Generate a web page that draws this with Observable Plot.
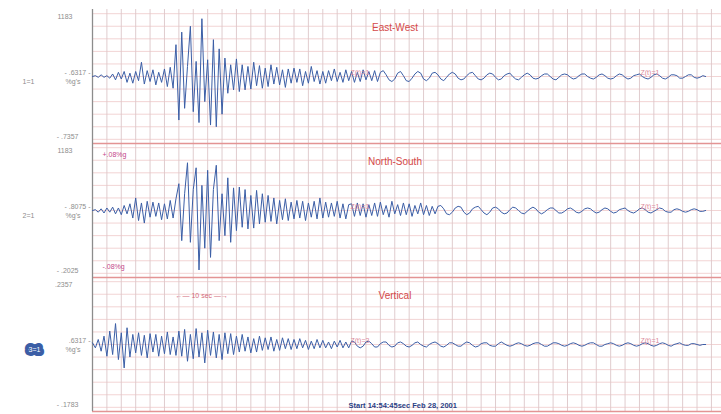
<!DOCTYPE html>
<html><head><meta charset="utf-8">
<script src="https://cdn.jsdelivr.net/npm/d3@7"></script>
<script src="https://cdn.jsdelivr.net/npm/@observablehq/plot@0.6"></script>
<style>body{margin:0;background:#fff}</style>
</head><body><div id="chart"></div>
<script>
const channels = ["East-West", "North-South", "Vertical"];
const dt = 0.4; // seconds per sample
const ewValues = [
 0, 1, -1, 2, -1, 1, -2, 3, -4, 5,
 -3, 6, -7, 4, -8, 6, -5, 17, -9, 7,
 -6, 8, -10, 5, -7, 9, -12, 11, -14, 38,
 -52, 53, -38, 12, 60, -42, 18, -55, 69, -30,
 20, -58, 44, -60, 33, -45, 22, -20, 14, -16,
 21, -18, 14, -16, 12, -15, 17, -11, 13, -14,
 10, -12, 14, -9, 11, -10, 8, -13, 9, -8,
 10, -7, 9, -11, 6, -8, 12, -6, 7, -9,
 6, -8, 7, -5, 9, -6, 5, -7, 8, -5,
 6, -7, 5, -6, 8, -4, 6, -5, 7, -6,
 5, 7, 2, -4, -6, -3, 4, 6, 1, -5,
 -6, -2, 3, 6, 4, -3, -5, -2, 4, 5,
 2, -3, -5, -1, 3, 5, 3, -2, -4, -3,
 1, 4, 5, 1, -3, -4, -2, 2, 4, 3,
 -1, -4, -3, 1, 3, 4, 0, -3, -4, -1,
 2, 4, 2, -2, -3, -2, 1, 3, 3, 0,
 -3, -4, -1, 2, 3, 2, -1, -3, -2, 1,
 3, 3, 0, -2, -3, -1, 2, 3, 1, -2,
 -3, -2, 1, 3, 2, -1, -3, -2, 1, 2,
 3, 0, -2, -3, -1, 2, 3, 1, -2, -3,
 -1, 2, 2, 1, -2, -2, 0, 2, 2, -1,
 -2, -1, 1, 0
];
const nsValues = [
 0, 1, -2, 2, -3, 3, -2, 4, -4, 3,
 -5, 6, -4, 8, -9, 15, -12, 9, -15, 11,
 -8, 10, -7, 9, -11, 8, -10, 12, -9, 14,
 32, -36, 20, 57, -38, 25, 51, -71, 30, -45,
 48, -56, 25, 54, -36, 20, -30, 39, -38, 27,
 -24, 28, -20, 25, -22, 18, -21, 24, -16, 20,
 -14, 18, -13, 15, -16, 12, -11, 14, -12, 10,
 -10, 12, -9, 11, -12, 9, -8, 11, -10, 15,
 -9, 10, -8, 9, -7, 11, -9, 8, -10, 7,
 8, -7, 9, -6, 8, -8, 7, -6, 9, -7,
 10, -5, 6, -8, 11, -4, 7, -6, 9, -5,
 8, -7, 6, -4, 9, -5, 6, -6, 5, -4,
 5, 6, 2, -4, -5, -2, 3, 5, 4, -2,
 -5, -3, 2, 4, 5, 1, -3, -5, -2, 3,
 4, 2, -2, -4, -3, 1, 4, 3, 0, -3,
 -4, -1, 2, 4, 2, -2, -4, -2, 1, 3,
 3, 0, -3, -3, -1, 2, 3, 1, -2, -3,
 -1, 2, 3, 2, -1, -3, -2, 1, 3, 2,
 -1, -3, -2, 1, 2, 3, 0, -2, -3, -1,
 2, 3, 1, -2, -3, -1, 1, 3, 2, -1,
 -2, -2, 1, 2, 1, -1, -2, -1, 1, 2,
 1, -1, -1, 0
];
const vtValues = [
 2, -4, 6, -8, 10, -14, 16, -12, 25, -18,
 14, -28, 20, -15, 12, -10, 14, -13, 11, -16,
 13, -9, 12, -14, 10, -11, 15, -12, 9, -13,
 16, -14, 18, -20, 12, -17, 19, -15, 14, -22,
 17, -13, 15, -16, 12, -18, 14, -11, 13, -12,
 10, -9, 12, -8, 9, -10, 7, -9, 10, -7,
 8, -6, 9, -8, 6, -7, 8, -5, 7, -6,
 6, -5, 7, -4, 5, -6, 4, -5, 6, -4,
 5, -4, 3, -5, 4, -3, 5, -4, 3, -4,
 4, 3, -2, -4, -2, 3, 4, 1, -3, -3,
 1, 3, 3, -1, -3, -2, 2, 3, 1, -2,
 -3, -1, 2, 3, 0, -2, -3, 0, 2, 3,
 1, -2, -3, -1, 2, 2, 0, -2, -2, 1,
 3, 2, -1, -3, -2, 1, 2, 2, -1, -2,
 -2, 1, 3, 1, -1, -2, -1, 1, 2, 1,
 -1, -2, -1, 1, 2, 2, 0, -2, -2, 0,
 2, 2, 1, -1, -2, -1, 1, 2, 1, -1,
 -2, -1, 1, 2, 2, 0, -2, -2, 0, 1,
 2, 1, -1, -2, -1, 1, 2, 1, -1, -2,
 -1, 1, 2, 1, -1, -2, -1, 1, 2, 1,
 -1, -2, 0, 1, 2, 0, -1, -1, 1, 1,
 0, -1, 0, 0
];
const panelTop = ["1183", "1183", ".2357"];
const panelBottom = ["- .7357", "- .2025", "- .1783"];
const midLabels = ["- .6317 -", "- .8075 -", ".6317 -"];
const unitLabels = ["%g's", "%g's", "%g's"];
const idLabels = ["1=1", "2=1", "3=1"];
const zLabels = ["Z(t)=1", "Z(t)=1", "Z(t)=3"];
const zLabelsRight = ["Z(t)=1", "Z(t)=1", "Z(t)=1"];
const rangeLabels = ["+.08%g", "-.08%g"];
const scaleLabel = "←— 10 sec —→";
const startLabel = "Start 14:54:45sec Feb 28, 2001";
const xGrid = d3.range(0, 88, 2);
const yGrid = [-75, -60, -45, -30, -15, 0, 15, 30, 45, 60, 75];

const series = [ewValues, nsValues, vtValues];
const rows = [];
series.forEach((vals, k) => vals.forEach((v, i) => rows.push({ch: channels[k], t: i * dt, v})));
const labels = channels.map((ch, i) => ({ch, top: panelTop[i], bottom: panelBottom[i], mid: midLabels[i], unit: unitLabels[i], id: idLabels[i], z: zLabels[i], z2: zLabelsRight[i]}));
const ns = labels.filter(d => d.ch === "North-South");
const vt = labels.filter(d => d.ch === "Vertical");
const notVt = labels.filter(d => d.ch !== "Vertical");

const gray = "#8d8d8d";
const chart = Plot.plot({
  width: 721, height: 414,
  marginLeft: 92, marginRight: 0, marginTop: 8, marginBottom: 3,
  x: {domain: [0, 87.4], axis: null},
  y: {domain: [-80, 80], axis: null},
  fy: {domain: channels, axis: null, padding: 0},
  style: {fontFamily: "'Liberation Sans', Arial, sans-serif", background: "white"},
  marks: [
    Plot.ruleY(yGrid, {stroke: "#f1cfcf", strokeWidth: 0.9}),
    Plot.ruleX(xGrid, {stroke: "#dcc6c8", strokeWidth: 0.9}),
    Plot.ruleY([-80], {stroke: "#e39494", strokeWidth: 1.6}),
    Plot.ruleX([0], {stroke: "#8c8c8c", strokeWidth: 1.3}),
    Plot.line(rows, {x: "t", y: "v", fy: "ch", stroke: "#3b5ea6", strokeWidth: 1}),
    Plot.text(labels, {fy: "ch", text: "ch", frameAnchor: "top", dx: -12, dy: 14, fill: "#d44a4a", fontSize: 10}),
    Plot.text(labels, {fy: "ch", text: "top", frameAnchor: "top-left", dx: -20, dy: 5, textAnchor: "end", fill: gray, fontSize: 7}),
    Plot.text(labels, {fy: "ch", text: "bottom", frameAnchor: "bottom-left", dx: -14, dy: -5, textAnchor: "end", fill: gray, fontSize: 7}),
    Plot.text(labels, {fy: "ch", y: () => 0, text: "mid", frameAnchor: "left", dx: -2, dy: -4, textAnchor: "end", fill: gray, fontSize: 7}),
    Plot.text(labels, {fy: "ch", y: () => 0, text: "unit", frameAnchor: "left", dx: -12, dy: 5, textAnchor: "end", fill: gray, fontSize: 7}),
    Plot.text(notVt, {fy: "ch", y: () => 0, text: "id", frameAnchor: "left", dx: -70, dy: 5, textAnchor: "start", fill: gray, fontSize: 7}),
    Plot.text(vt, {fy: "ch", y: () => 0, text: "id", frameAnchor: "left", dx: -64, dy: 5, fill: "white", stroke: "#3b5ea6", strokeWidth: 8, strokeLinejoin: "round", fontSize: 7}),
    Plot.text(labels, {fy: "ch", y: () => 0, text: "z", frameAnchor: "left", dx: 258, dy: -4, textAnchor: "start", fill: "#dc8a9a", fontSize: 7}),
    Plot.text(labels, {fy: "ch", y: () => 0, text: "z2", frameAnchor: "left", dx: 548, dy: -4, textAnchor: "start", fill: "#dc8a9a", fontSize: 7}),
    Plot.text(ns, {fy: "ch", text: () => rangeLabels[0], frameAnchor: "top-left", dx: 10, dy: 9, textAnchor: "start", fill: "#c4488a", fontSize: 7}),
    Plot.text(ns, {fy: "ch", text: () => rangeLabels[1], frameAnchor: "bottom-left", dx: 10, dy: -9, textAnchor: "start", fill: "#c4488a", fontSize: 7}),
    Plot.text(vt, {fy: "ch", text: () => scaleLabel, frameAnchor: "top-left", dx: 83, dy: 16, textAnchor: "start", fill: "#d46a7a", fontSize: 7}),
    Plot.text(vt, {fy: "ch", text: () => startLabel, frameAnchor: "bottom-left", dx: 256, dy: -4, textAnchor: "start", fill: "#2b3f85", fontWeight: "bold", fontSize: 7.5})
  ]
});
document.getElementById("chart").appendChild(chart);
</script>
</body></html>
